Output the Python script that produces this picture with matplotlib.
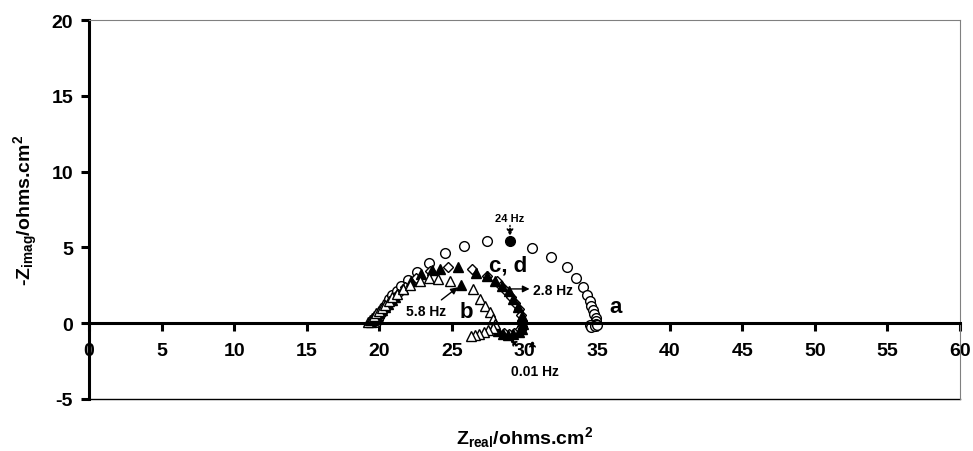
import matplotlib
matplotlib.use("Agg")
import matplotlib.pyplot as plt

plt.rcParams['font.family'] = ['Liberation Sans', 'DejaVu Sans']
plt.rcParams['font.weight'] = 'bold'
plt.rcParams['axes.unicode_minus'] = False
plt.rcParams['mathtext.fontset'] = 'custom'
plt.rcParams['mathtext.rm'] = 'Liberation Sans:bold'
plt.rcParams['mathtext.it'] = 'Liberation Sans:bold'
plt.rcParams['mathtext.bf'] = 'Liberation Sans:bold'

# series a - open circles
a_x = [19.8, 19.9, 20.0, 20.1, 20.2, 20.35, 20.5, 20.7, 20.9, 21.2, 21.5, 22.0, 22.6,
       23.45, 24.5, 25.85, 27.4, 30.5, 31.8, 32.9, 33.55, 34.05, 34.3, 34.5, 34.6,
       34.7, 34.8, 34.9, 34.95, 34.9, 34.7, 34.5, 34.6, 34.85, 35.0]
a_y = [0.1, 0.3, 0.5, 0.7, 0.9, 1.1, 1.35, 1.6, 1.85, 2.15, 2.47, 2.85, 3.36,
       3.95, 4.6, 5.1, 5.4, 4.96, 4.35, 3.69, 2.98, 2.37, 1.86, 1.49, 1.16,
       0.87, 0.6, 0.34, 0.12, -0.05, -0.1, -0.15, -0.25, -0.2, -0.1]
a_hz = (29.0, 5.44)   # 24 Hz

# series b - open triangles
b_x = [19.2, 19.35, 19.5, 19.65, 19.8, 20.0, 20.2, 20.4, 20.65, 20.9, 21.2, 21.6, 22.1,
       22.8, 23.4, 24.05, 24.85, 26.45, 26.95, 27.3, 27.6, 27.85, 27.95, 27.8, 27.5,
       27.2, 26.9, 26.6, 26.3]
b_y = [0.05, 0.2, 0.35, 0.5, 0.65, 0.8, 1.0, 1.2, 1.45, 1.7, 1.95, 2.25, 2.5,
       2.8, 3.0, 2.9, 2.8, 2.26, 1.6, 1.15, 0.72, 0.28, -0.05, -0.3, -0.45,
       -0.6, -0.7, -0.8, -0.85]
b_hz = (25.65, 2.55)  # 5.8 Hz

# series c - filled triangles
c_x = [19.4, 19.55, 19.7, 19.85, 20.0, 20.2, 20.4, 20.6, 20.85, 21.1, 21.65, 22.2, 22.9,
       23.6, 24.2, 25.4, 26.65, 27.4, 27.95, 28.45, 29.2, 29.55, 29.8, 29.9, 29.85,
       29.6, 29.2, 28.85, 28.5, 28.2]
c_y = [0.05, 0.2, 0.35, 0.5, 0.65, 0.85, 1.05, 1.25, 1.5, 1.75, 2.26, 2.8, 3.25,
       3.5, 3.57, 3.69, 3.29, 3.1, 2.8, 2.45, 1.6, 1.05, 0.5, -0.05, -0.38,
       -0.6, -0.71, -0.75, -0.71, -0.5]
c_hz = (28.9, 2.1)    # 2.8 Hz

# series d - open diamonds
d_x = [19.5, 19.65, 19.8, 19.95, 20.1, 20.3, 20.5, 20.75, 21.0, 21.3, 21.8, 22.5, 23.48,
       24.75, 26.35, 27.39, 28.08, 28.4, 28.75, 29.05, 29.35, 29.6, 29.75, 29.85, 29.8,
       29.6, 29.3, 28.95, 28.6]
d_y = [0.1, 0.25, 0.4, 0.55, 0.7, 0.9, 1.1, 1.35, 1.6, 1.9, 2.4, 2.95, 3.46,
       3.69, 3.57, 3.13, 2.8, 2.47, 2.1, 1.75, 1.35, 0.95, 0.55, 0.15, -0.2,
       -0.45, -0.62, -0.7, -0.65]

fig = plt.figure(figsize=(9.73, 4.52), dpi=100)
ax = fig.add_axes([89 / 973, 1 - 400 / 452, 871 / 973, 379 / 452])

ms = 7
ax.plot(a_x, a_y, 'o', ms=ms, mfc='white', mec='black', mew=1, clip_on=False)
ax.plot(*a_hz, 'o', ms=ms, mfc='black', mec='black', mew=1)
ax.plot(d_x, d_y, 'D', ms=5.5, mfc='white', mec='black', mew=1)
ax.plot(c_x, c_y, '^', ms=ms, mfc='black', mec='black', mew=1)
ax.plot(*c_hz, '^', ms=ms, mfc='black', mec='black', mew=1)
ax.plot(b_x, b_y, '^', ms=ms, mfc='white', mec='black', mew=1)
ax.plot(*b_hz, '^', ms=ms, mfc='black', mec='black', mew=1)

# labels for the curves
ax.text(36.3, 1.1, 'a', fontsize=16, ha='center', va='center')
ax.text(26.0, 0.78, 'b', fontsize=16, ha='center', va='center')
ax.text(28.9, 3.86, 'c, d', fontsize=16, ha='center', va='center')

# frequency annotations
ax.text(29.0, 6.95, '24 Hz', fontsize=8, ha='center', va='center')
ax.annotate('', xy=(29.0, 5.75), xytext=(29.0, 6.45),
            arrowprops=dict(arrowstyle='-|>', ls=':', color='black', lw=1, shrinkA=0, shrinkB=0))
ax.annotate('5.8 Hz', xy=(25.4, 2.37), xytext=(23.25, 0.78), fontsize=10,
            ha='center', va='center',
            arrowprops=dict(arrowstyle='-|>', color='black', lw=1, shrinkA=2, shrinkB=0))
ax.annotate('', xy=(30.35, 2.26), xytext=(29.1, 2.26),
            arrowprops=dict(arrowstyle='-|>', color='black', lw=1, shrinkA=0, shrinkB=0))
ax.text(31.98, 2.19, '2.8 Hz', fontsize=10, ha='center', va='center')
ax.text(30.7, -3.17, '0.01 Hz', fontsize=10, ha='center', va='center')
ax.annotate('', xy=(29.0, -1.05), xytext=(29.45, -1.45),
            arrowprops=dict(arrowstyle='-|>', ls=':', color='black', lw=1, shrinkA=0, shrinkB=0))
ax.annotate('', xy=(30.55, -1.1), xytext=(30.55, -1.9),
            arrowprops=dict(arrowstyle='-|>', ls=':', color='black', lw=1, shrinkA=0, shrinkB=0))

ax.set_xlim(0, 60)
ax.set_ylim(-5, 20)
ax.set_xticks(range(0, 61, 5))
ax.set_yticks(range(-5, 21, 5))

ax.spines['left'].set_linewidth(2.2)
ax.spines['bottom'].set_position(('data', 0))
ax.spines['bottom'].set_linewidth(2.2)
ax.spines['top'].set_color('#808080')
ax.spines['top'].set_linewidth(0.8)
ax.spines['right'].set_color('#808080')
ax.spines['right'].set_linewidth(0.8)
ax.axhline(-5, color='black', lw=1, clip_on=False)

ax.tick_params(axis='both', direction='out', length=5.5, width=2.2, labelsize=14)
ax.tick_params(axis='x', pad=8)
ax.tick_params(axis='y', pad=6)
for lab in ax.get_xticklabels() + ax.get_yticklabels():
    lab.set_fontweight('bold')

ax.set_xlabel(r'Z$_{real}$/ohms.cm$^{2}$', fontsize=14, fontweight='bold')
ax.set_ylabel(r'-Z$_{imag}$/ohms.cm$^{2}$', fontsize=14, fontweight='bold')
ax.xaxis.set_label_coords(0.5, -0.098)
ax.yaxis.set_label_coords(-0.072, 0.5)
ax.xaxis.label.set_va('center')
ax.yaxis.label.set_va('center')

fig.savefig('out.png', dpi=100)
